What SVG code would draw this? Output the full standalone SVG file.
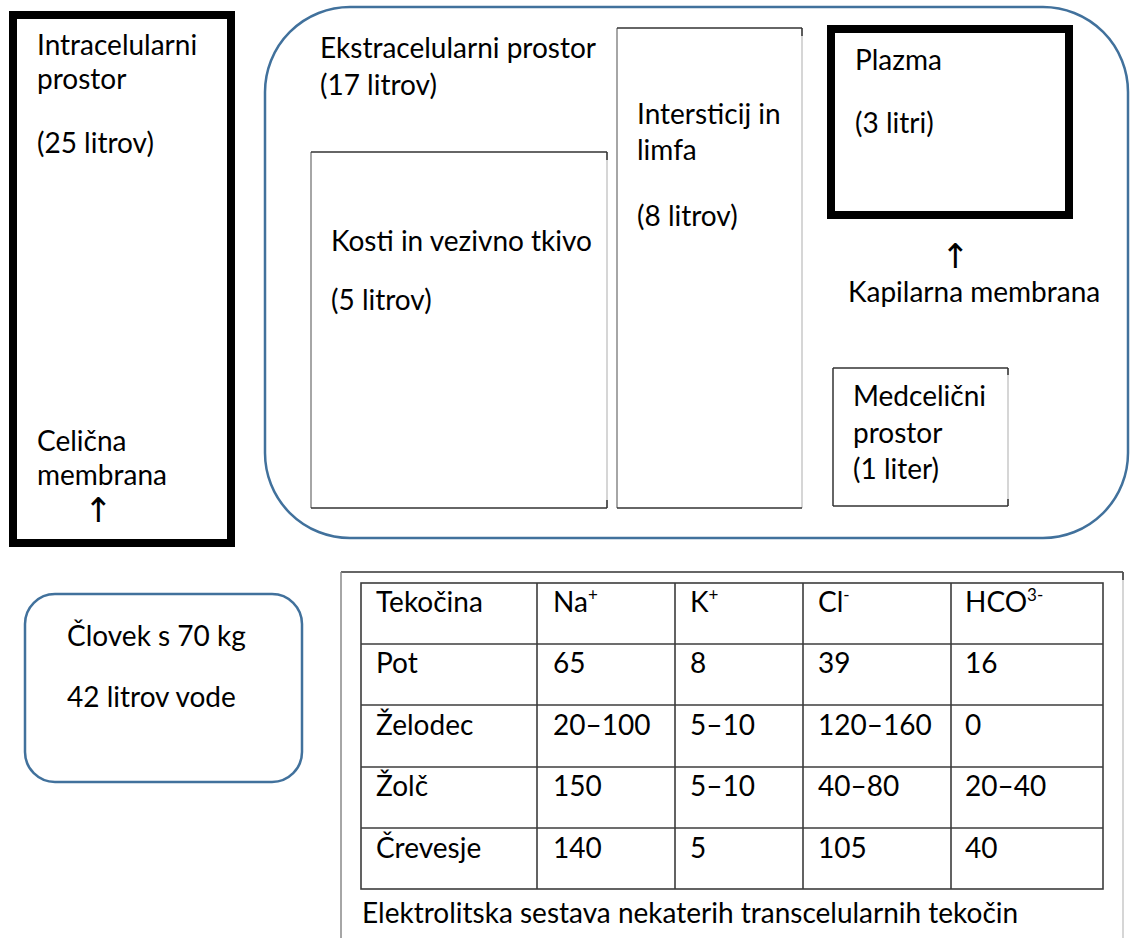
<svg xmlns="http://www.w3.org/2000/svg" width="1131" height="938" viewBox="0 0 1131 938">
<style>
  text { font-family: Lato, "Liberation Sans", sans-serif; font-size: 28px; fill: #000; }
  .bold { fill: #fff; stroke: #000; stroke-width: 8; }
  .blue { fill: #fff; stroke: #41719C; stroke-width: 2.5; }
  .thin { fill: #fff; stroke: none; }
  .dk { stroke: #333; stroke-width: 1.5; fill: none; }
  .md { stroke: #888; stroke-width: 1.5; fill: none; }
  .lt { stroke: #c8c8c8; stroke-width: 1.5; fill: none; }
  .grid { stroke: #3c3c3c; stroke-width: 1.6; fill: none; }
  .sup { font-size: 17px; }
  .arrow { font-family: "DejaVu Sans", sans-serif; font-size: 34px; }
</style>
<rect width="1131" height="938" fill="#fff"/>

<g id="extracellular">
  <rect class="blue" x="265" y="7" width="863" height="531" rx="85" ry="85"/>
  <text x="320" y="58">Ekstracelularni prostor</text>
  <text x="320" y="95">(17 litrov)</text>
</g>

<g id="intracellular">
  <rect class="bold" x="13" y="15" width="218" height="528"/>
  <text x="37" y="55">Intracelularni</text>
  <text x="37" y="89">prostor</text>
  <text x="37" y="153">(25 litrov)</text>
  <text x="37" y="451">Celična</text>
  <text x="37" y="485">membrana</text>
  <text class="arrow" x="84" y="522">↑</text>
</g>

<g id="kosti">
  <rect class="thin" x="311" y="152" width="296" height="356"/>
  <line class="md" x1="311" y1="152" x2="311" y2="508"/>
  <line class="lt" x1="607" y1="152" x2="607" y2="508"/>
  <line class="dk" x1="311" y1="152" x2="607" y2="152"/>
  <line class="dk" x1="311" y1="508" x2="607" y2="508"/>
  <line class="dk" x1="607" y1="152" x2="607" y2="160"/>
  <line class="dk" x1="607" y1="500" x2="607" y2="508"/>
  <text x="331" y="251">Kosti in vezivno tkivo</text>
  <text x="331" y="310">(5 litrov)</text>
</g>

<g id="intersticij">
  <rect class="thin" x="617" y="28" width="185" height="480"/>
  <line class="md" x1="617" y1="28" x2="617" y2="508"/>
  <line class="lt" x1="802" y1="28" x2="802" y2="508"/>
  <line class="dk" x1="617" y1="28" x2="802" y2="28"/>
  <line class="dk" x1="617" y1="508" x2="802" y2="508"/>
  <line class="dk" x1="802" y1="28" x2="802" y2="36"/>
  <text x="637" y="124">Intersticij in</text>
  <text x="637" y="160">limfa</text>
  <text x="637" y="226">(8 litrov)</text>
</g>

<g id="plazma">
  <rect class="bold" x="831" y="29" width="238" height="186"/>
  <text x="855" y="70">Plazma</text>
  <text x="855" y="133">(3 litri)</text>
</g>

<g id="kapilarna">
  <text class="arrow" x="941" y="268">↑</text>
  <text x="848" y="302">Kapilarna membrana</text>
</g>

<g id="medcelicni">
  <rect class="thin" x="833" y="368" width="175" height="138"/>
  <line class="dk" x1="833" y1="368" x2="833" y2="506"/>
  <line class="lt" x1="1008" y1="368" x2="1008" y2="506"/>
  <line class="dk" x1="833" y1="368" x2="1008" y2="368"/>
  <line class="dk" x1="833" y1="506" x2="1008" y2="506"/>
  <line class="dk" x1="1008" y1="368" x2="1008" y2="375"/>
  <line class="dk" x1="1008" y1="499" x2="1008" y2="506"/>
  <text x="853" y="406">Medcelični</text>
  <text x="853" y="443">prostor</text>
  <text x="853" y="479">(1 liter)</text>
</g>

<g id="clovek">
  <rect class="blue" x="25" y="594" width="277" height="188" rx="30" ry="30"/>
  <text x="67" y="646">Človek s 70 kg</text>
  <text x="67" y="707">42 litrov vode</text>
</g>

<g id="table">
  <line class="dk" x1="341" y1="572" x2="1123" y2="572"/>
  <line class="md" x1="341" y1="572" x2="341" y2="938"/>
  <line class="lt" x1="1123" y1="572" x2="1123" y2="938"/>
  <line class="dk" x1="1123" y1="572" x2="1123" y2="580"/>
  <rect class="grid" x="361" y="583" width="742" height="306"/>
  <line class="grid" x1="361" y1="644" x2="1103" y2="644"/>
  <line class="grid" x1="361" y1="705" x2="1103" y2="705"/>
  <line class="grid" x1="361" y1="767" x2="1103" y2="767"/>
  <line class="grid" x1="361" y1="828" x2="1103" y2="828"/>
  <line class="grid" x1="537" y1="583" x2="537" y2="889"/>
  <line class="grid" x1="675" y1="583" x2="675" y2="889"/>
  <line class="grid" x1="803" y1="583" x2="803" y2="889"/>
  <line class="grid" x1="951" y1="583" x2="951" y2="889"/>

  <text x="376" y="612">Tekočina</text>
  <text x="553" y="612">Na<tspan class="sup" dy="-11">+</tspan></text>
  <text x="690" y="612">K<tspan class="sup" dy="-11">+</tspan></text>
  <text x="818" y="612">Cl<tspan class="sup" dy="-11">-</tspan></text>
  <text x="965" y="612">HCO<tspan class="sup" dy="-11">3-</tspan></text>

  <text x="376" y="673">Pot</text>
  <text x="553" y="673">65</text>
  <text x="690" y="673">8</text>
  <text x="818" y="673">39</text>
  <text x="965" y="673">16</text>

  <text x="376" y="735">Želodec</text>
  <text x="553" y="735">20–100</text>
  <text x="690" y="735">5–10</text>
  <text x="818" y="735">120–160</text>
  <text x="965" y="735">0</text>

  <text x="376" y="796">Žolč</text>
  <text x="553" y="796">150</text>
  <text x="690" y="796">5–10</text>
  <text x="818" y="796">40–80</text>
  <text x="965" y="796">20–40</text>

  <text x="376" y="858">Črevesje</text>
  <text x="553" y="858">140</text>
  <text x="690" y="858">5</text>
  <text x="818" y="858">105</text>
  <text x="965" y="858">40</text>

  <text x="362" y="923">Elektrolitska sestava nekaterih transcelularnih tekočin</text>
</g>
</svg>
